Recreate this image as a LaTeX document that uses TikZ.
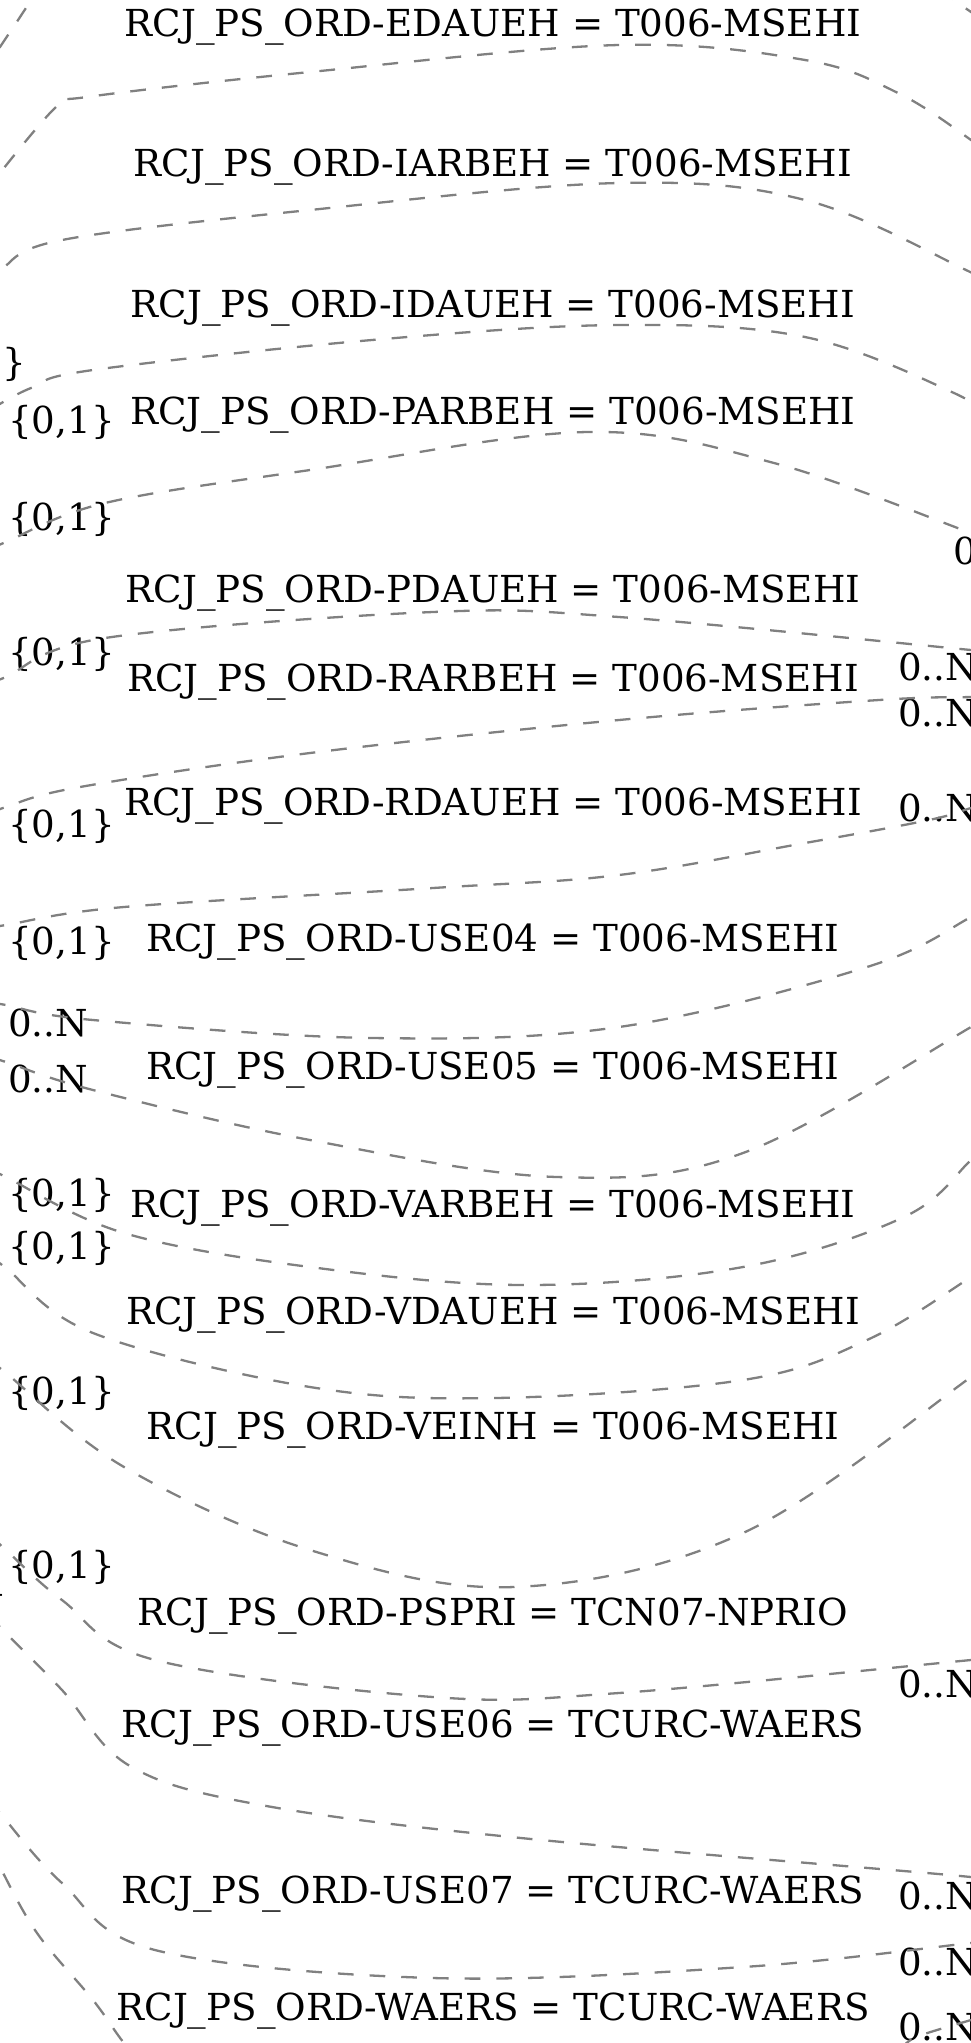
\documentclass[tikz,border=0pt]{standalone}
\usepackage{fontspec}
\setmainfont{DejaVu Serif}
\tikzset{
  rel/.style={draw=gray, line width=2.3pt, dash pattern=on 15.7pt off 16pt},
  lbl/.style={anchor=base, inner sep=0pt},
  card/.style={anchor=base west, inner sep=0pt},
}
\begin{document}
\begin{tikzpicture}[x=1pt, y=-1pt, font=\fontsize{37.2}{44}\selectfont]
        \useasboundingbox (0,0) rectangle (971,2043);
        \clip (0,0) rectangle (971,2043);

        % Join labels
        \node[lbl] (edaueh) at (493,36)   {RCJ\_PS\_ORD-EDAUEH = T006-MSEHI};
        \node[lbl] (iarbeh) at (493,176)  {RCJ\_PS\_ORD-IARBEH = T006-MSEHI};
        \node[lbl] (idaueh) at (493,317)  {RCJ\_PS\_ORD-IDAUEH = T006-MSEHI};
        \node[lbl] (parbeh) at (493,424)  {RCJ\_PS\_ORD-PARBEH = T006-MSEHI};
        \node[lbl] (pdaueh) at (493,602)  {RCJ\_PS\_ORD-PDAUEH = T006-MSEHI};
        \node[lbl] (rarbeh) at (493,691)  {RCJ\_PS\_ORD-RARBEH = T006-MSEHI};
        \node[lbl] (rdaueh) at (493,815)  {RCJ\_PS\_ORD-RDAUEH = T006-MSEHI};
        \node[lbl] (use04)  at (493,951)  {RCJ\_PS\_ORD-USE04 = T006-MSEHI};
        \node[lbl] (use05)  at (493,1079) {RCJ\_PS\_ORD-USE05 = T006-MSEHI};
        \node[lbl] (varbeh) at (493,1217) {RCJ\_PS\_ORD-VARBEH = T006-MSEHI};
        \node[lbl] (vdaueh) at (493,1324) {RCJ\_PS\_ORD-VDAUEH = T006-MSEHI};
        \node[lbl] (veinh)  at (493,1439) {RCJ\_PS\_ORD-VEINH = T006-MSEHI};
        \node[lbl] (pspri)  at (493,1625) {RCJ\_PS\_ORD-PSPRI = TCN07-NPRIO};
        \node[lbl] (use06)  at (493,1737) {RCJ\_PS\_ORD-USE06 = TCURC-WAERS};
        \node[lbl] (use07)  at (493,1903) {RCJ\_PS\_ORD-USE07 = TCURC-WAERS};
        \node[lbl] (waers)  at (493,2020) {RCJ\_PS\_ORD-WAERS = TCURC-WAERS};

        % Cardinalities
        \foreach \y in {433,530,665,837,954,1206,1259,1404,1578}
            \node[card] (cl\y) at (8,\y) {\{0,1\}};
        \foreach \y in {1036,1092}
            \node[card] (cl\y) at (8,\y) {0..N};
        \foreach \y in {680,726,821,1697,1909,1975,2040}
            \node[card] (cr\y) at (898,\y) {0..N};
        \node[card, anchor=base east] (cltop) at (26,375) {\{0,1\}};
        \node[card, anchor=base east] (clbot) at (7,1606) {\{0,1\}};
        \node[card] (crtop) at (953,564) {0..N};

        % Free ends
        \coordinate (edaueh-l) at (-15,192);  \coordinate (edaueh-r) at (1000,165);
        \coordinate (iarbeh-l) at (-20,283);  \coordinate (iarbeh-r) at (1000,292);
        \coordinate (idaueh-l) at (-10,410);  \coordinate (idaueh-r) at (990,420);
        \coordinate (parbeh-l) at (-10,550);  \coordinate (parbeh-r) at (1000,545);
        \coordinate (pdaueh-l) at (-10,684);  \coordinate (pdaueh-r) at (1000,653);
        \coordinate (rarbeh-l) at (-10,815);  \coordinate (rarbeh-r) at (1000,696);
        \coordinate (rdaueh-l) at (-10,928);  \coordinate (rdaueh-r) at (1000,800);
        \coordinate (use04-l)  at (-10,1002); \coordinate (use04-r)  at (1000,898);
        \coordinate (use05-l)  at (-10,1057); \coordinate (use05-r)  at (1000,1005);
        \coordinate (varbeh-l) at (-10,1168); \coordinate (varbeh-r) at (1000,1130);
        \coordinate (vdaueh-l) at (-10,1255); \coordinate (vdaueh-r) at (1000,1255);
        \coordinate (veinh-l)  at (-10,1360); \coordinate (veinh-r)  at (1000,1350);
        \coordinate (pspri-l)  at (-10,1535); \coordinate (pspri-r)  at (1000,1657);
        \coordinate (use06-l)  at (-10,1615); \coordinate (use06-r)  at (1000,1885);
        \coordinate (use07-l)  at (-10,1800); \coordinate (use07-r)  at (1000,1940);
        \coordinate (waers-l)  at (-10,1845); \coordinate (waers-r)  at (150,2070);

        % Edges
        \draw[rel] plot[smooth, tension=0.6] coordinates {(edaueh-l) (55,108) (87,97) (310,72) (619,45) (805,60) (898,93) (971,140) (edaueh-r)};
        \draw[rel] plot[smooth, tension=0.6] coordinates {(iarbeh-l) (0,270) (62,240) (310,210) (619,183) (805,200) (966,270) (iarbeh-r)};
        \draw[rel] plot[smooth, tension=0.6] coordinates {(idaueh-l) (31,388) (93,370) (372,340) (619,325) (805,337) (954,393) (idaueh-r)};
        \draw[rel] plot[smooth, tension=0.6] coordinates {(parbeh-l) (6,542) (105,503) (310,470) (588,432) (774,463) (971,533) (parbeh-r)};
        \draw[rel] plot[smooth, tension=0.6] coordinates {(pdaueh-l) (6,677) (105,638) (433,612) (619,617) (971,650) (pdaueh-r)};
        \draw[rel] plot[smooth, tension=0.6] coordinates {(rarbeh-l) (6,807) (80,787) (310,753) (619,720) (879,700) (971,697) (rarbeh-r)};
        \draw[rel] plot[smooth, tension=0.6] coordinates {(rdaueh-l) (6,925) (124,907) (433,888) (619,875) (805,843) (929,820) (971,808) (rdaueh-r)};
        \draw[rel] plot[smooth, tension=0.6] coordinates {(use04-l) (6,1005) (93,1020) (372,1038) (619,1027) (867,967) (971,917) (use04-r)};
        \draw[rel] plot[smooth, tension=0.6] coordinates {(use05-l) (6,1062) (93,1090) (310,1140) (557,1177) (743,1153) (971,1027) (use05-r)};
        \draw[rel] plot[smooth, tension=0.6] coordinates {(varbeh-l) (6,1177) (124,1233) (310,1267) (526,1285) (743,1267) (904,1217) (971,1160) (varbeh-r)};
        \draw[rel] plot[smooth, tension=0.6] coordinates {(vdaueh-l) (6,1268) (93,1333) (310,1387) (495,1398) (743,1380) (867,1340) (971,1277) (vdaueh-r)};
        \draw[rel] plot[smooth, tension=0.6] coordinates {(veinh-l) (6,1373) (124,1467) (310,1550) (514,1587) (743,1533) (971,1377) (veinh-r)};
        \draw[rel] plot[smooth, tension=0.6] coordinates {(pspri-l) (6,1550) (62,1600) (155,1660) (433,1697) (619,1693) (971,1660) (pspri-r)};
        \draw[rel] plot[smooth, tension=0.6] coordinates {(use06-l) (0,1627) (62,1690) (130,1766) (261,1805) (521,1838) (971,1877) (use06-r)};
        \draw[rel] plot[smooth, tension=0.6] coordinates {(use07-l) (0,1813) (62,1883) (155,1950) (433,1978) (743,1967) (971,1943) (use07-r)};
        \draw[rel] plot[smooth, tension=0.6] coordinates {(waers-l) (0,1867) (37,1933) (93,2000) (124,2043) (waers-r)};

        % Edges passing the corners
        \draw[rel] plot[smooth] coordinates {(40,-20) (31,0) (0,47) (-10,62)};
        \draw[rel] plot[smooth] coordinates {(940,-10) (954,0) (971,12) (990,25)};
        \draw[rel] plot[smooth] coordinates {(900,2050) (916,2037) (971,2020) (1000,2012)};
\end{tikzpicture}
\end{document}
